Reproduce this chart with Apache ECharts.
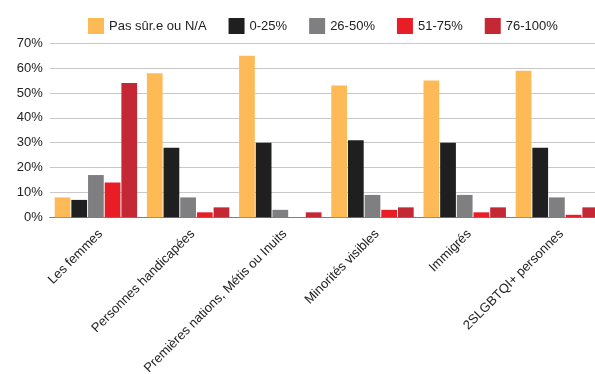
<!DOCTYPE html>
<html><head><meta charset="utf-8">
<script src="https://cdn.jsdelivr.net/npm/echarts@6/dist/echarts.min.js"></script>
<style>html,body{margin:0;padding:0;background:#fff}#c{width:595px;height:374px}</style>
</head><body><div id="c"></div>
<script>
const categories = ["Les femmes","Personnes handicapées","Premières nations, Métis ou Inuits","Minorités visibles","Immigrés","2SLGBTQI+ personnes"];
const seriesNames = ["Pas sûr.e ou N/A","0-25%","26-50%","51-75%","76-100%"];
const pasSure = [8,58,65,53,55,59];
const p0_25 = [7,28,30,31,30,28];
const p26_50 = [17,8,3,9,9,8];
const p51_75 = [14,2,0,3,2,1];
const p76_100 = [54,4,2,4,4,4];
const yTicks = [0,10,20,30,40,50,60,70];
const colors = ["#FDBA57","#1F1F1F","#7F7E80","#E81D25","#C52835"];
const values = [pasSure,p0_25,p26_50,p51_75,p76_100];
const font = '"Liberation Sans", Arial, Helvetica, sans-serif';
const chart = echarts.init(document.getElementById('c'), null, {renderer:'canvas'});
chart.setOption({
  animation:false,
  textStyle:{fontFamily:font},
  legend:{
    top:13, left:83, itemWidth:16, itemHeight:16, itemGap:22,
    icon:'rect',
    textStyle:{fontSize:13,color:'#222',fontFamily:font},
    data:seriesNames
  },
  grid:{left:49.8, right:-8, top:43.3, bottom:156.7, containLabel:false, outerBoundsMode:'none'},
  xAxis:{
    type:'category', data:categories,
    axisLine:{show:true,lineStyle:{color:'#808080',width:1}},
    axisTick:{show:false},
    axisLabel:{rotate:45, fontSize:13, color:'#222', margin:10, interval:0, verticalAlign:'top', fontFamily:font}
  },
  yAxis:{
    type:'value', min:yTicks[0], max:yTicks[yTicks.length-1], interval:10,
    axisLine:{show:false}, axisTick:{show:false},
    axisLabel:{formatter:'{value}%', fontSize:13, color:'#222', margin:7, fontFamily:font},
    splitLine:{lineStyle:{color:'#C8C8C8',width:1}}
  },
  series: seriesNames.map((n,i)=>({
    name:n, type:'bar', data:values[i],
    barGap:'6%', barCategoryGap:'10.6%',
    itemStyle:{color:colors[i]}
  }))
});
</script></body></html>
